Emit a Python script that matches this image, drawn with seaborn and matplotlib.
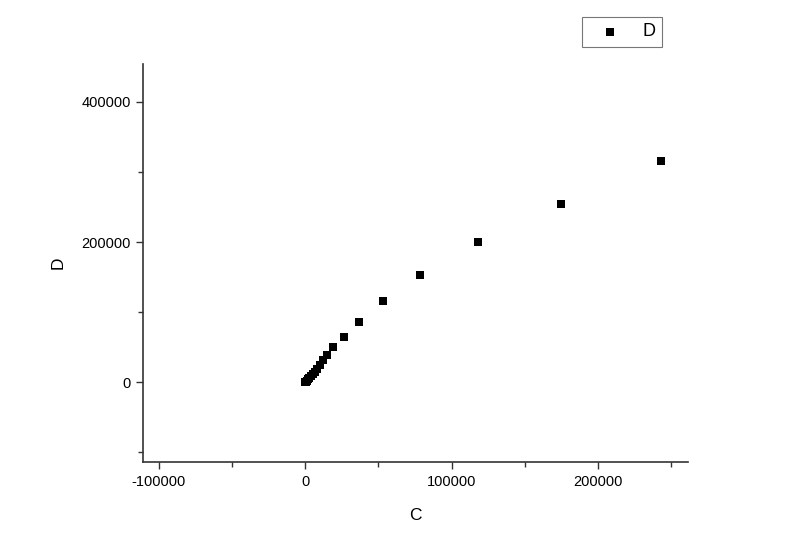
import numpy as np
import pandas as pd
import matplotlib
matplotlib.use("Agg")
import matplotlib.pyplot as plt
import seaborn as sns
from matplotlib.ticker import MultipleLocator

# Values
c_vals = [200, 700, 1400, 2000, 2700, 3800, 5100, 6500, 8200, 10200,
          12500, 14800, 19300, 26400, 36900, 52800, 78700, 117900, 174500, 243000]
d_vals = [0, 700, 2100, 3600, 5700, 8600, 11400, 15000, 19300, 24300,
          31400, 38600, 49600, 64300, 86100, 115300, 152900, 200400, 254300, 315700]

df = pd.DataFrame({"C": c_vals, "D": d_vals})

sns.set_style("ticks")
plt.rcParams["font.family"] = ["Liberation Sans", "DejaVu Sans"]
plt.rcParams["axes.unicode_minus"] = False
plt.rcParams["text.color"] = "black"
plt.rcParams["axes.labelcolor"] = "black"
plt.rcParams["xtick.labelcolor"] = "black"
plt.rcParams["ytick.labelcolor"] = "black"

fig = plt.figure(figsize=(8, 5.54), dpi=100)
ax = fig.add_axes([0.179, 0.166, 0.681, 0.7185])

sns.scatterplot(data=df, x="C", y="D", marker="s", s=34, color="black",
                edgecolor="black", linewidth=0, label="D", ax=ax)

ax.set_xlim(-110600, 261400)
ax.set_ylim(-114300, 454300)
ax.xaxis.set_major_locator(MultipleLocator(100000))
ax.xaxis.set_minor_locator(MultipleLocator(50000))
ax.yaxis.set_major_locator(MultipleLocator(200000))
ax.yaxis.set_minor_locator(MultipleLocator(100000))
ax.tick_params(which="major", length=5, width=1, color="#333333", labelsize=10.5, pad=4)
ax.tick_params(which="minor", length=3.5, width=1, color="#333333")

for side in ["top", "right"]:
    ax.spines[side].set_visible(False)
for side in ["left", "bottom"]:
    ax.spines[side].set_linewidth(1.2)
    ax.spines[side].set_color("#333333")

ax.set_xlabel("C", fontsize=12.5, labelpad=14)
ax.set_ylabel("D", fontsize=12.5, labelpad=11)

leg = ax.legend(loc="upper right", bbox_to_anchor=(0.8275, 0.969),
                bbox_transform=fig.transFigure, frameon=True, fancybox=False,
                fontsize=13, handletextpad=0.6, borderpad=0.35, handlelength=2.4,
                borderaxespad=0)
leg.get_frame().set_edgecolor("#555555")
leg.get_frame().set_linewidth(0.8)

fig.savefig("out.png", dpi=100)
